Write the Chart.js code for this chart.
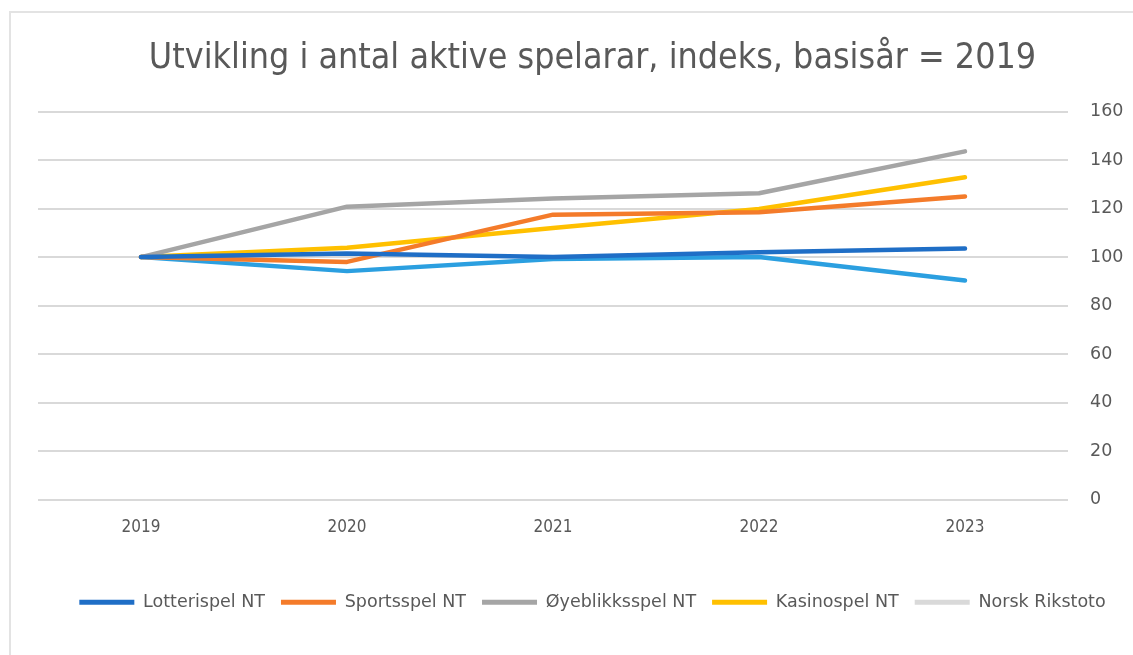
<!DOCTYPE html>
<html>
<head>
<meta charset="utf-8">
<script src="https://cdn.jsdelivr.net/npm/chart.js@4"></script>
<style>
    body { margin: 0; background: #fff; }
    #wrap { position: relative; width: 1133px; height: 655px; }
    #frame { position: absolute; left: 9px; top: 11px; width: 1130px; height: 650px; border: 2px solid #e3e3e3; pointer-events: none; }
</style>
</head>
<body>
<div id="wrap">
    <canvas id="chart" width="1133" height="655"></canvas>
    <div id="frame"></div>
</div>
<script>
const years = ['2019', '2020', '2021', '2022', '2023'];
const seriesNames = ['Lotterispel NT', 'Sportsspel NT', 'Øyeblikksspel NT', 'Kasinospel NT', 'Norsk Rikstoto'];
const lotterispel = [100, 101.5, 100, 102, 103.5];
const sportsspel = [100, 98, 117.5, 118.5, 125];
const oyeblikksspel = [100, 120.8, 124.2, 126.3, 143.6];
const kasinospel = [100, 103.8, 112, 119.8, 132.9];
const rikstoto = [100, 94.2, 99.2, 100, 90.3];
const yTicks = [0, 20, 40, 60, 80, 100, 120, 140, 160];

const lineColors = ['#1f6ec6', '#f47b2a', '#a5a5a5', '#ffc000', '#2b9fe0'];
const legendColors = ['#1f6ec6', '#f47b2a', '#a5a5a5', '#ffc000', '#d9d9d9'];
const allValues = [lotterispel, sportsspel, oyeblikksspel, kasinospel, rikstoto];

const textColor = '#595959';

// the title and legend sit a little right of centre in the original
const shiftBoxes = {
    id: 'shiftBoxes',
    afterLayout(chart) {
        [chart.titleBlock, chart.legend].forEach(box => {
            if (box) { box.left += 11; box.right += 11; }
        });
    }
};

const ctx = document.getElementById('chart').getContext('2d');
new Chart(ctx, {
    type: 'line',
    data: {
        labels: years,
        datasets: seriesNames.map((name, i) => ({
            label: name,
            data: allValues[i],
            borderColor: lineColors[i],
            backgroundColor: legendColors[i],
            borderWidth: 4.5,
            pointRadius: 0,
            tension: 0,
            borderCapStyle: 'round',
            borderJoinStyle: 'round'
        }))
    },
    plugins: [shiftBoxes],
    options: {
        responsive: false,
        animation: false,
        layout: { padding: { left: 38, right: 8, top: 18, bottom: 34 } },
        plugins: {
            title: {
                display: true,
                text: 'Utvikling i antal aktive spelarar, indeks, basisår = 2019',
                color: textColor,
                font: { family: 'DejaVu Sans Condensed', size: 35.5, weight: 'normal' },
                padding: { top: 19, bottom: 32 }
            },
            legend: {
                position: 'bottom',
                labels: {
                    color: textColor,
                    font: { family: 'DejaVu Sans', size: 17.5 },
                    boxWidth: 55,
                    boxHeight: 5,
                    padding: 16,
                    generateLabels: chart => chart.data.datasets.map((ds, i) => ({
                        text: ds.label,
                        fillStyle: legendColors[i],
                        strokeStyle: legendColors[i],
                        lineWidth: 0,
                        hidden: false,
                        datasetIndex: i,
                        fontColor: textColor
                    }))
                }
            },
            tooltip: { enabled: false }
        },
        scales: {
            x: {
                offset: true,
                grid: { display: false },
                border: { display: false },
                ticks: {
                    color: textColor,
                    font: { family: 'DejaVu Sans Condensed', size: 17 },
                    padding: 10
                },
                afterFit: axis => { axis.height = 78; }
            },
            y: {
                position: 'right',
                min: 0,
                max: 160,
                afterBuildTicks: axis => { axis.ticks = yTicks.map(v => ({ value: v })); },
                grid: { color: '#d9d9d9', lineWidth: 2, drawTicks: false },
                border: { display: false },
                ticks: {
                    color: textColor,
                    font: { family: 'DejaVu Sans', size: 17.5 },
                    padding: 22
                },
                afterFit: axis => { axis.width = 57; }
            }
        }
    }
});
</script>
</body>
</html>
